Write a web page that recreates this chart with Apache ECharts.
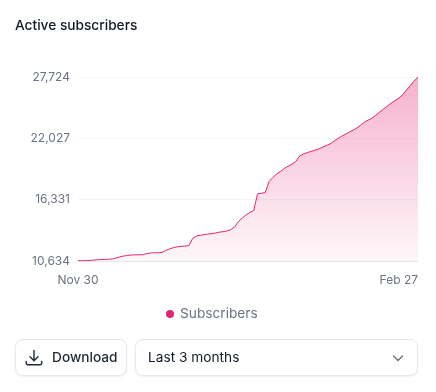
<!DOCTYPE html>
<html>
<head>
<meta charset="utf-8">
<title>Active subscribers</title>
<script src="https://cdn.jsdelivr.net/npm/echarts@6/dist/echarts.min.js"></script>
<style>
  html, body { margin: 0; padding: 0; background: #fff; }
  body { width: 436px; height: 392px; position: relative; overflow: hidden; font-family: Inter, sans-serif; }
  #chart { position: absolute; left: 0; top: 0; width: 436px; height: 392px; }
  .ctl { position: absolute; top: 339px; height: 37px; box-sizing: border-box; background: #fff; border: 1px solid #e5e7eb;
    border-radius: 8px; box-shadow: 0 1px 2px rgba(17,24,39,.06); font-size: 13.7px; line-height: 35px; color: #111827; }
  #download { left: 15px; width: 112px; font-weight: 500; color: #1f2937; }
  #download svg { position: absolute; left: 9px; top: 9px; }
  #download span { position: absolute; left: 36px; }
  #range { left: 135px; width: 283px; }
  #range span { position: absolute; left: 12px; }
  #range svg { position: absolute; right: 12px; top: 11px; }
</style>
</head>
<body>
<div id="chart"></div>
<div class="ctl" id="download">
  <svg width="18" height="18" viewBox="0 0 18 18" fill="none" stroke="#1f2937" stroke-width="1.4" stroke-linecap="round" stroke-linejoin="round">
    <path d="M9 1.5v10M5 7.8l4 3.9 4-3.9M1.200 12.500v1.600c0 1 .8 1.600 1.600 1.600h12.400c.8 0 1.600-.6 1.600-1.600v-1.600"/>
  </svg>
  <span>Download</span>
</div>
<div class="ctl" id="range">
  <span>Last 3 months</span>
  <svg width="14" height="14" viewBox="0 0 14 14" fill="none" stroke="#6b7280" stroke-width="1.4" stroke-linecap="round" stroke-linejoin="round">
    <path d="M2.500 5l4.500 4.500L11.500 5"/>
  </svg>
</div>
<script>
  var titleText = 'Active subscribers';
  var seriesName = 'Subscribers';
  var yTicks = [10634, 16331, 22027, 27724];
  var months = [['Nov', 30, 30], ['Dec', 1, 31], ['Jan', 1, 31], ['Feb', 1, 27]];
  var subscribers = [
    10662, 10662, 10671, 10680, 10718, 10745, 10773, 10783, 10792, 10820,
    10913, 11024, 11098, 11154, 11191, 11201, 11210, 11219, 11321, 11386,
    11396, 11396, 11433, 11609, 11767, 11879, 11953, 11990, 12018, 12064,
    12724, 12956, 13021, 13077, 13132, 13179, 13235, 13309, 13365, 13420,
    13550, 13792, 14303, 14628, 14925, 15139, 15324, 16876, 16922, 16987,
    17999, 18390, 18715, 18956, 19225, 19439, 19625, 19875, 20386, 20572,
    20702, 20814, 20925, 21037, 21204, 21353, 21520, 21761, 22012, 22226,
    22411, 22616, 22783, 22987, 23266, 23544, 23730, 23916, 24194, 24473,
    24752, 25030, 25309, 25541, 25773, 26098, 26516, 26934, 27352, 27724
  ];

  var days = [];
  months.forEach(function (m) {
    for (var d = m[1]; d <= m[2]; d++) days.push(m[0] + ' ' + d);
  });

  var myChart = echarts.init(document.getElementById('chart'), null, { renderer: 'canvas' });
  myChart.setOption({
    animation: false,
    textStyle: { fontFamily: 'Inter' },
    title: {
      text: titleText,
      left: 15,
      top: 19,
      padding: 0,
      textStyle: { fontSize: 13.7, fontWeight: 500, color: '#111827', fontFamily: 'Inter' }
    },
    legend: {
      data: [seriesName],
      top: 307,
      left: 166,
      padding: 0,
      icon: 'circle',
      itemWidth: 8,
      itemHeight: 8,
      itemGap: 6,
      textStyle: { fontSize: 13.7, color: '#6b7280', fontFamily: 'Inter', padding: [0, 0, 0, 1] }
    },
    grid: { left: 78, right: 18, top: 77, bottom: 131 },
    xAxis: {
      type: 'category',
      data: days,
      boundaryGap: false,
      axisLine: { lineStyle: { color: '#e5e7eb', width: 1 } },
      axisTick: { show: false },
      axisLabel: {
        color: '#6b7280',
        fontSize: 12,
        margin: 13,
        interval: function (i) { return i === 0 || i === days.length - 1; },
        alignMinLabel: 'center',
        alignMaxLabel: 'right'
      }
    },
    yAxis: {
      type: 'value',
      min: yTicks[0],
      max: yTicks[yTicks.length - 1],
      axisLine: { show: false },
      axisTick: { show: false, customValues: yTicks },
      axisLabel: {
        color: '#6b7280',
        fontSize: 12,
        margin: 8,
        customValues: yTicks,
        formatter: function (v) { return v.toLocaleString('en-US'); }
      },
      splitLine: { lineStyle: { color: '#f5f5f6', width: 1 } }
    },
    series: [{
      name: seriesName,
      type: 'line',
      data: subscribers,
      showSymbol: false,
      symbol: 'circle',
      itemStyle: { color: '#e0247a' },
      lineStyle: { color: '#e6246f', width: 1 },
      areaStyle: {
        color: new echarts.graphic.LinearGradient(0, 0, 0, 1, [
          { offset: 0, color: 'rgba(230,36,111,0.5)' },
          { offset: 1, color: 'rgba(230,36,111,0.05)' }
        ])
      }
    }]
  });
</script>
</body>
</html>
